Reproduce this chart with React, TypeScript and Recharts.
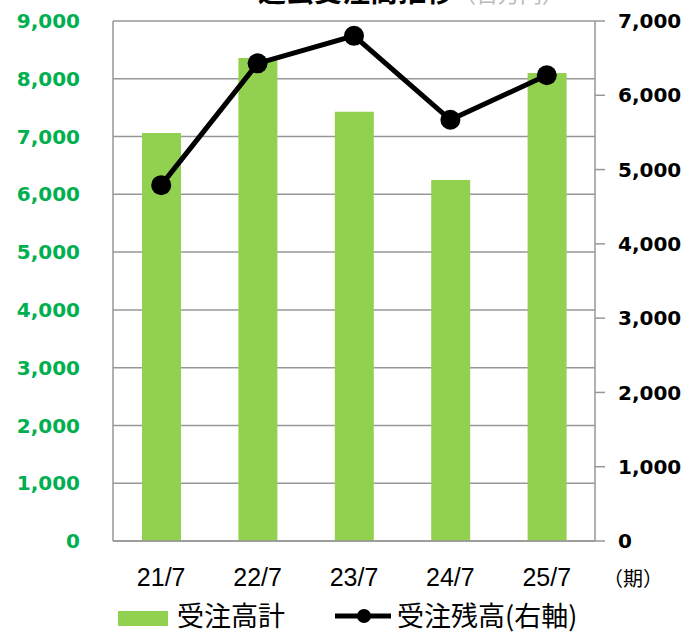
import {
  ComposedChart,
  Bar,
  Line,
  XAxis,
  YAxis,
  CartesianGrid,
} from 'recharts';

const periods = ['21/7', '22/7', '23/7', '24/7', '25/7'];
const ordersTotal = [7060, 8360, 7430, 6250, 8100];
const backlog = [4790, 6430, 6800, 5670, 6270];
const leftTicks = [0, 1000, 2000, 3000, 4000, 5000, 6000, 7000, 8000, 9000];
const rightTicks = [0, 1000, 2000, 3000, 4000, 5000, 6000, 7000];

const data = periods.map((p, i) => ({
  period: p,
  total: ordersTotal[i],
  backlog: backlog[i],
}));

const fmt = (v: number) => v.toLocaleString('en-US');
const grid = '#979797';

export default function App() {
  return (
    <div
      style={{
        position: 'absolute',
        left: 0,
        top: 0,
        width: 687,
        height: 635,
        overflow: 'hidden',
        background: '#fff',
        fontFamily: '"Noto Sans CJK JP", sans-serif',
      }}
    >
      {/* title sits mostly above the visible area, as in the source crop */}
      <div
        style={{
          position: 'absolute',
          left: 258,
          top: -30,
          fontSize: 28,
          fontWeight: 700,
          whiteSpace: 'nowrap',
          color: '#000',
        }}
      >
        過去受注高推移
        <span style={{ color: '#bbb', fontWeight: 400, fontSize: 22 }}>（百万円）</span>
      </div>

      <ComposedChart
        width={687}
        height={635}
        data={data}
        margin={{ top: 21, right: 0, bottom: 34, left: 0 }}
      >
        <CartesianGrid yAxisId="left" vertical={false} stroke={grid} strokeWidth={1.5} />
        <XAxis
          dataKey="period"
          height={60}
          stroke={grid}
          strokeWidth={1.5}
          tickLine={false}
          tickSize={0}
          tickMargin={27}
          tick={{ fill: '#000', fontSize: 25, fontFamily: '"Liberation Sans", sans-serif' }}
        />
        <YAxis
          yAxisId="left"
          width={113}
          domain={[0, 9000]}
          ticks={leftTicks}
          interval={0}
          tickFormatter={fmt}
          stroke={grid}
          strokeWidth={1.5}
          tickLine={false}
          tickSize={0}
          tickMargin={33}
          tick={{ fill: '#00B050', fontSize: 20, fontWeight: 700, fontFamily: '"DejaVu Sans", sans-serif' }}
        />
        <YAxis
          yAxisId="right"
          orientation="right"
          width={92}
          domain={[0, 7000]}
          ticks={rightTicks}
          interval={0}
          tickFormatter={fmt}
          stroke={grid}
          strokeWidth={1.5}
          tickSize={10}
          tickMargin={13}
          tick={{ fill: '#000', fontSize: 20, fontWeight: 700, fontFamily: '"DejaVu Sans", sans-serif' }}
        />
        <Bar yAxisId="left" dataKey="total" fill="#92D050" barSize={39} isAnimationActive={false} />
        <Line
          yAxisId="right"
          dataKey="backlog"
          type="linear"
          stroke="#000"
          strokeWidth={5}
          dot={{ r: 10, fill: '#000', stroke: '#000', strokeWidth: 0 }}
          isAnimationActive={false}
        />
      </ComposedChart>

      <div style={{ position: 'absolute', left: 603, top: 563, fontSize: 20, color: '#000' }}>（期）</div>

      <div
        style={{
          position: 'absolute',
          left: 118,
          top: 598,
          height: 34,
          display: 'flex',
          alignItems: 'center',
          fontSize: 27,
          lineHeight: '30px',
          color: '#000',
          whiteSpace: 'nowrap',
        }}
      >
        <span style={{ display: 'inline-block', width: 50, height: 15, background: '#92D050', marginRight: 9, marginTop: 6 }} />
        <span>受注高計</span>
        <svg width={56} height={20} style={{ marginLeft: 50, marginRight: 6, marginTop: 2 }}>
          <line x1={0} y1={10} x2={56} y2={10} stroke="#000" strokeWidth={5} />
          <circle cx={29} cy={10} r={7} fill="#000" />
        </svg>
        <span>受注残高(右軸)</span>
      </div>
    </div>
  );
}
